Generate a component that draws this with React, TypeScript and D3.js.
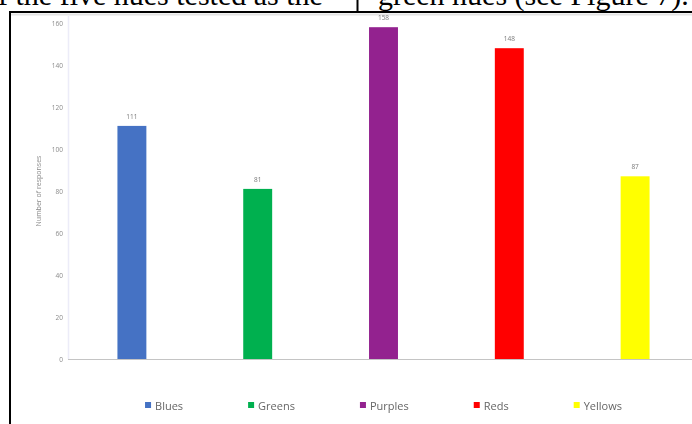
import React, { useEffect, useRef } from "react";
import * as d3 from "d3";

// Survey results: number of responses per hue family
const categories = ["Blues", "Greens", "Purples", "Reds", "Yellows"];
const responses = [111, 81, 158, 148, 87];
const barColors = ["#4472C4", "#00B050", "#93238F", "#FF0000", "#FFFF00"];
const yTicks = [0, 20, 40, 60, 80, 100, 120, 140, 160];
const yTitle = "Number of responses";
const leftColumnText = "f the five hues tested as the";
const rightColumnText = "green hues (see Figure 7).";

const W = 692;
const H = 424;

export default function App() {
  const ref = useRef<SVGSVGElement>(null);

  useEffect(() => {
    const svg = d3.select(ref.current);
    svg.selectAll("*").remove();

    const defs = svg.append("defs");
    defs
      .append("filter")
      .attr("id", "soft")
      .attr("x", "-2%")
      .attr("y", "-2%")
      .attr("width", "104%")
      .attr("height", "104%")
      .append("feGaussianBlur")
      .attr("stdDeviation", 0.45);

    // Running text of the page above the figure
    const serif = "'Liberation Serif', 'Times New Roman', serif";
    svg
      .append("text")
      .attr("x", -2)
      .attr("y", 5)
      .attr("font-family", serif)
      .attr("font-size", 30)
      .attr("fill", "#000")
      .text(leftColumnText);
    svg
      .append("text")
      .attr("x", 378)
      .attr("y", 5)
      .attr("font-family", serif)
      .attr("font-size", 30)
      .attr("fill", "#000")
      .text(rightColumnText);

    // Table rules
    svg.append("line").attr("x1", 9).attr("x2", W).attr("y1", 14.5).attr("y2", 14.5)
      .attr("stroke", "#e4e4e4").attr("stroke-width", 2);
    svg.append("line").attr("x1", 357.5).attr("x2", 357.5).attr("y1", 0).attr("y2", 12)
      .attr("stroke", "#000").attr("stroke-width", 2);
    svg.append("line").attr("x1", 9).attr("x2", W).attr("y1", 12).attr("y2", 12)
      .attr("stroke", "#000").attr("stroke-width", 2);
    svg.append("line").attr("x1", 10).attr("x2", 10).attr("y1", 11).attr("y2", H)
      .attr("stroke", "#000").attr("stroke-width", 2);

    const chart = svg.append("g").attr("filter", "url(#soft)");

    const plotLeft = 69;
    const plotRight = 698;
    const x = d3
      .scaleBand<string>()
      .domain(categories)
      .range([plotLeft, plotRight])
      .paddingInner(0.77)
      .paddingOuter(0.385);
    const y = d3.scaleLinear().domain([0, 160]).range([359, 23]);

    const sans = "'Open Sans', 'Noto Sans', sans-serif";

    // Plot area edge and category baseline
    chart.append("line").attr("x1", plotLeft - 0.5).attr("x2", plotLeft - 0.5)
      .attr("y1", 16).attr("y2", y(0)).attr("stroke", "#ececf8").attr("stroke-width", 1.5);
    chart.append("line").attr("x1", plotLeft - 1).attr("x2", W)
      .attr("y1", y(0) + 0.5).attr("y2", y(0) + 0.5).attr("stroke", "#c4c4c4").attr("stroke-width", 1);

    // Value axis
    const axis = d3.axisLeft(y).tickValues(yTicks).tickSize(0).tickPadding(0);
    const axisG = chart.append("g").attr("transform", `translate(${plotLeft - 6},0)`).call(axis);
    axisG.select(".domain").remove();
    axisG.selectAll("text")
      .attr("font-family", sans)
      .attr("font-size", 6.5)
      .attr("fill", "#8a8a8a");

    chart.append("text")
      .attr("transform", `translate(39,${(y(0) + y(160)) / 2}) rotate(-90)`)
      .attr("text-anchor", "middle")
      .attr("dominant-baseline", "middle")
      .attr("font-family", sans)
      .attr("font-size", 7)
      .attr("fill", "#8a8a8a")
      .text(yTitle);

    // Bars
    const data = categories.map((c, i) => ({ c, v: responses[i], color: barColors[i] }));
    chart.selectAll("rect.bar")
      .data(data)
      .join("rect")
      .attr("class", "bar")
      .attr("x", (d) => x(d.c)!)
      .attr("width", x.bandwidth())
      .attr("y", (d) => y(d.v))
      .attr("height", (d) => y(0) - y(d.v))
      .attr("fill", (d) => d.color);

    chart.selectAll("text.val")
      .data(data)
      .join("text")
      .attr("class", "val")
      .attr("x", (d) => x(d.c)! + x.bandwidth() / 2)
      .attr("y", (d) => y(d.v) - 7)
      .attr("text-anchor", "middle")
      .attr("font-family", sans)
      .attr("font-size", 6.5)
      .attr("fill", "#7a7a7a")
      .text((d) => String(d.v));

    // Legend, centred under the plot area
    const legend = chart.append("g");
    const items = legend.selectAll("g.item").data(data).join("g").attr("class", "item");
    items.append("rect").attr("width", 6).attr("height", 6).attr("y", -3).attr("fill", (d) => d.color);
    items.append("text")
      .attr("x", 10)
      .attr("dominant-baseline", "central")
      .attr("font-family", sans)
      .attr("font-size", 11)
      .attr("fill", "#666")
      .text((d) => d.c);
    const gap = 65;
    const widths: number[] = [];
    items.each(function () {
      const t = d3.select(this).select("text").node() as SVGTextElement;
      widths.push(10 + t.getComputedTextLength());
    });
    const total = d3.sum(widths) + gap * (widths.length - 1);
    let cx = (plotLeft + plotRight) / 2 - total / 2;
    items.attr("transform", (_d, i) => {
      const tx = cx;
      cx += widths[i] + gap;
      return `translate(${tx},405)`;
    });
  }, []);

  return (
    <svg
      ref={ref}
      width={W}
      height={H}
      style={{ position: "absolute", left: 0, top: 0, background: "#fff" }}
    />
  );
}
